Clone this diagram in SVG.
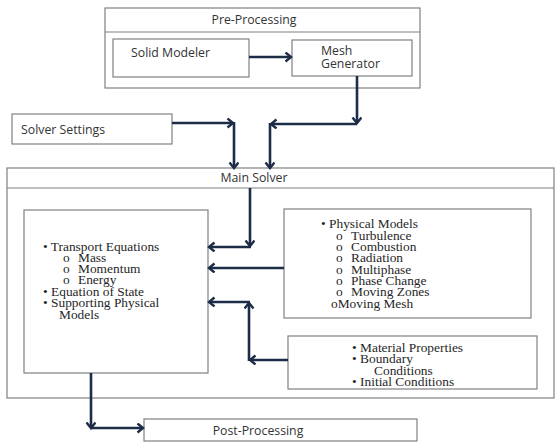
<svg xmlns="http://www.w3.org/2000/svg" width="555" height="442" viewBox="0 0 555 442">
<defs>
<style>
.box{fill:#fff;stroke:#808080;stroke-width:1.2}
.sans{font-family:"Open Sans","Liberation Sans",sans-serif;font-size:12.3px;fill:#333}
.serif{font-family:"Liberation Serif","Times New Roman",serif;font-size:13.4px;fill:#262626}
.arr{fill:none;stroke:#1d2c47;stroke-width:2.6;marker-end:url(#ah)}
</style>
<marker id="ah" markerUnits="userSpaceOnUse" markerWidth="12" markerHeight="12" refX="7" refY="5" orient="auto">
<path d="M1.5,0.5 L7,5 L1.5,9.5" fill="none" stroke="#1d2c47" stroke-width="2.4"/>
</marker>
</defs>
<rect width="555" height="442" fill="#fff"/>

<g id="pre-processing">
<rect class="box" x="105" y="8" width="315" height="80"/>
<line x1="105" y1="32" x2="420" y2="32" stroke="#808080" stroke-width="1.2"/>
<text class="sans" x="254" y="24" text-anchor="middle">Pre-Processing</text>
</g>
<g id="solid-modeler">
<rect class="box" x="113" y="39" width="136" height="38"/>
<text class="sans" x="131" y="57">Solid Modeler</text>
</g>
<g id="mesh-generator">
<rect class="box" x="292" y="40" width="120" height="36"/>
<text class="sans" x="321" y="55">Mesh</text>
<text class="sans" x="321" y="68">Generator</text>
</g>
<g id="solver-settings">
<rect class="box" x="12" y="114" width="160" height="30"/>
<text class="sans" x="21" y="134">Solver Settings</text>
</g>
<g id="main-solver">
<rect class="box" x="7" y="168" width="547" height="230"/>
<line x1="7" y1="188" x2="554" y2="188" stroke="#808080" stroke-width="1.2"/>
<text class="sans" x="254" y="182" text-anchor="middle">Main Solver</text>
</g>
<g id="transport">
<rect class="box" x="24" y="210" width="184" height="163"/>
<text class="serif">
<tspan x="43" y="251">• Transport Equations</tspan>
<tspan x="63" y="262">o</tspan><tspan x="78" y="262">Mass</tspan>
<tspan x="63" y="273">o</tspan><tspan x="78" y="273">Momentum</tspan>
<tspan x="63" y="284">o</tspan><tspan x="78" y="284">Energy</tspan>
<tspan x="43" y="296">• Equation of State</tspan>
<tspan x="43" y="307">• Supporting Physical</tspan>
<tspan x="59" y="319">Models</tspan>
</text>
</g>
<g id="physical-models">
<rect class="box" x="284" y="209" width="247" height="109"/>
<text class="serif">
<tspan x="321" y="228">• Physical Models</tspan>
<tspan x="336" y="240">o</tspan><tspan x="351" y="240">Turbulence</tspan>
<tspan x="336" y="251">o</tspan><tspan x="351" y="251">Combustion</tspan>
<tspan x="336" y="262">o</tspan><tspan x="351" y="262">Radiation</tspan>
<tspan x="336" y="274">o</tspan><tspan x="351" y="274">Multiphase</tspan>
<tspan x="336" y="285">o</tspan><tspan x="351" y="285">Phase Change</tspan>
<tspan x="336" y="296">o</tspan><tspan x="351" y="296">Moving Zones</tspan>
<tspan x="331" y="308">oMoving Mesh</tspan>
</text>
</g>
<g id="material">
<rect class="box" x="288" y="336" width="249" height="53"/>
<text class="serif">
<tspan x="352" y="352">• Material Properties</tspan>
<tspan x="352" y="363">• Boundary</tspan>
<tspan x="374" y="375">Conditions</tspan>
<tspan x="352" y="386">• Initial Conditions</tspan>
</text>
</g>
<g id="post-processing">
<rect class="box" x="144" y="419" width="273" height="22"/>
<text class="sans" x="258" y="435" text-anchor="middle">Post-Processing</text>
</g>

<g id="connectors">
<line class="arr" x1="249" y1="57" x2="291" y2="57"/>
<line class="arr" x1="357" y1="76" x2="357" y2="123"/>
<line class="arr" x1="357" y1="124" x2="271" y2="124"/>
<line class="arr" x1="270" y1="123" x2="270" y2="168"/>
<line class="arr" x1="172" y1="123" x2="233" y2="123"/>
<line class="arr" x1="234" y1="122" x2="234" y2="168"/>
<line class="arr" x1="250" y1="188" x2="250" y2="246"/>
<line class="arr" x1="251" y1="247" x2="209" y2="247"/>
<line class="arr" x1="284" y1="268" x2="209" y2="268"/>
<line class="arr" x1="288" y1="360" x2="250" y2="360"/>
<line class="arr" x1="249" y1="361" x2="249" y2="303"/>
<line class="arr" x1="250" y1="302" x2="209" y2="302"/>
<line class="arr" x1="91" y1="373" x2="91" y2="428"/>
<line class="arr" x1="90" y1="428" x2="143" y2="428"/>
</g>
</svg>
